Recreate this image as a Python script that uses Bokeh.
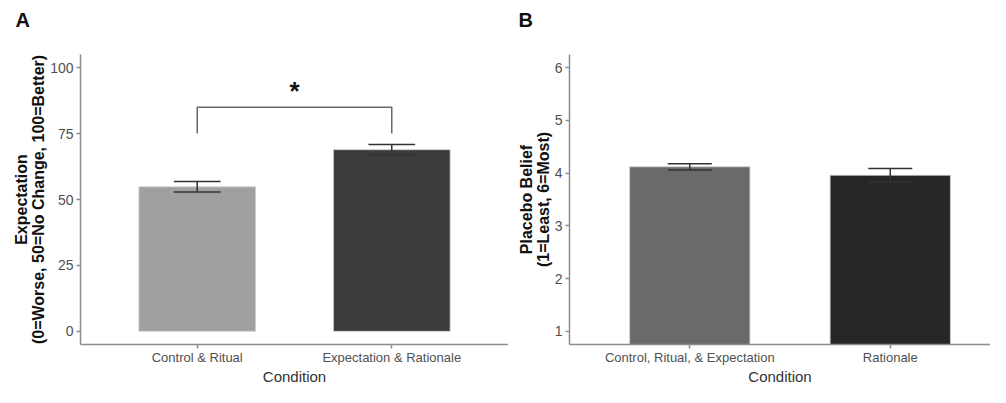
from bokeh.plotting import figure
from bokeh.models import Range1d, FixedTicker
from bokeh.layouts import row, column
from bokeh.embed import file_html
from bokeh.resources import INLINE
from bokeh.core.properties import value

# ---- data ----
cond_a = ["Control & Ritual", "Expectation & Rationale"]
expect_mean = [54.8, 68.9]
expect_se = [2.0, 2.0]
expect_ticks = [0, 25, 50, 75, 100]

cond_b = ["Control, Ritual, & Expectation", "Rationale"]
belief_mean = [4.12, 3.96]
belief_se = [0.06, 0.13]
belief_ticks = [1, 2, 3, 4, 5, 6]

bracket_low = 75
bracket_high = 85
sig_label = "*"
panel_names = ["A", "B"]

colors_a = ["#a0a0a0", "#3c3c3c"]
colors_b = ["#6a6a6a", "#262626"]

FONT = "Liberation Sans"
AXIS_COL = "#8c8c8c"
TOP_H = 40
H = 347
WA, WB = 508, 482


def style(p, ticks, cats, ylabel):
    p.xgrid.visible = False
    p.ygrid.visible = False
    p.outline_line_color = None
    for ax in (p.xaxis[0], p.yaxis[0]):
        ax.axis_line_color = AXIS_COL
        ax.axis_line_width = 1.5
        ax.major_tick_line_color = AXIS_COL
        ax.major_tick_line_width = 1.5
        ax.major_tick_out = 4
        ax.major_tick_in = 0
        ax.minor_tick_line_color = None
        ax.major_label_text_font = FONT
        ax.major_label_text_color = "#505050"
        ax.axis_label_text_font = FONT
        ax.axis_label_text_line_height = 1.0
    xs = list(range(1, len(cats) + 1))
    p.xaxis.ticker = FixedTicker(ticks=xs)
    p.xaxis.major_label_overrides = {x: c for x, c in zip(xs, cats)}
    p.xaxis.major_label_text_font_size = "13px"
    p.xaxis.major_label_standoff = 1
    p.xaxis.axis_label = "Condition"
    p.xaxis.axis_label_text_font_size = "15px"
    p.xaxis.axis_label_text_font_style = "normal"
    p.xaxis.axis_label_text_color = "#333333"
    p.xaxis.axis_label_standoff = 0
    p.yaxis.ticker = FixedTicker(ticks=ticks)
    p.yaxis.major_label_text_font_size = "14px"
    p.yaxis.major_label_standoff = 3
    p.yaxis.axis_label = ylabel
    p.yaxis.axis_label_text_font_size = "16px"
    p.yaxis.axis_label_text_font_style = "bold"
    p.yaxis.axis_label_text_color = "#111111"
    p.yaxis.axis_label_standoff = 0
    return xs


def label_strip(width, text, x_px):
    t = figure(width=width, height=TOP_H, output_backend="svg", toolbar_location=None,
               x_range=Range1d(0, width), y_range=Range1d(0, TOP_H),
               x_axis_type=None, y_axis_type=None, min_border=0)
    t.outline_line_color = None
    t.xgrid.visible = False
    t.ygrid.visible = False
    t.text(x=[x_px], y=[TOP_H - 19], text=[text], text_align="left", text_baseline="middle",
           text_font=value(FONT), text_font_size="20px", text_font_style="bold",
           text_color="#111111")
    return t


def bars(p, xs, means, ses, colors, cap_half):
    p.vbar(x=xs, top=means, bottom=0, width=0.6, fill_color=colors,
           line_color="#d0d0d0", line_width=0.8)
    lo = [m - s for m, s in zip(means, ses)]
    hi = [m + s for m, s in zip(means, ses)]
    p.segment(x0=xs, y0=lo, x1=xs, y1=hi, line_color="#333333", line_width=1.5)
    p.segment(x0=[x - cap_half for x in xs], y0=hi, x1=[x + cap_half for x in xs], y1=hi,
              line_color="#333333", line_width=1.5)
    p.segment(x0=[x - cap_half for x in xs], y0=lo, x1=[x + cap_half for x in xs], y1=lo,
              line_color="#333333", line_width=1.5)


# ---- Panel A ----
pA = figure(width=WA, height=H, output_backend="svg", toolbar_location=None,
            x_range=Range1d(0.4, 2.6), y_range=Range1d(-5, 105),
            min_border_left=80, min_border_right=0, min_border_top=14, min_border_bottom=20)
xsA = style(pA, expect_ticks, cond_a,
            "Expectation\n(0=Worse, 50=No Change, 100=Better)")
bars(pA, xsA, expect_mean, expect_se, colors_a, 0.12)
pA.line(x=[xsA[0], xsA[0], xsA[1], xsA[1]],
        y=[bracket_low, bracket_high, bracket_high, bracket_low],
        line_color="#6a6a6a", line_width=1.5)
pA.text(x=[(xsA[0] + xsA[1]) / 2], y=[bracket_high + 6], text=[sig_label],
        text_align="center", text_baseline="middle", text_font=value(FONT),
        text_font_size="26px", text_font_style="bold", text_color="#111111")

# ---- Panel B ----
pB = figure(width=WB, height=H, output_backend="svg", toolbar_location=None,
            x_range=Range1d(0.4, 2.5), y_range=Range1d(0.75, 6.25),
            min_border_left=61, min_border_right=0, min_border_top=14, min_border_bottom=20)
xsB = style(pB, belief_ticks, cond_b, "Placebo Belief\n(1=Least, 6=Most)")
bars(pB, xsB, belief_mean, belief_se, colors_b, 0.11)

tA = label_strip(WA, panel_names[0], 15)
tB = label_strip(WB, panel_names[1], 10)

layout = column(row(tA, tB), row(pA, pB))
open("out.html", "w").write(file_html(layout, INLINE))
